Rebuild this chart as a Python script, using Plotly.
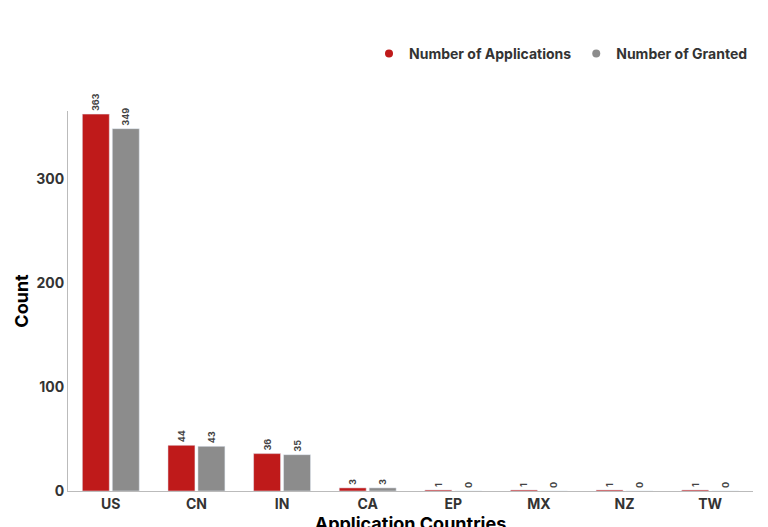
import plotly.graph_objects as go

countries = ["US", "CN", "IN", "CA", "EP", "MX", "NZ", "TW"]
applications = [363, 44, 36, 3, 1, 1, 1, 1]
granted = [349, 43, 35, 3, 0, 0, 0, 0]

font = "Inter, Open Sans, sans-serif"
red = "#BF1A1A"
grey = "#8C8C8C"

fig = go.Figure()
fig.add_trace(go.Bar(
    x=countries, y=applications, name="Number of Applications", showlegend=False,
    marker_color=red, text=applications, textposition="outside", cliponaxis=False,
    textangle=-90, textfont=dict(size=9, color="#444", family=font, weight="bold"),
))
fig.add_trace(go.Bar(
    x=countries, y=granted, name="Number of Granted", showlegend=False,
    marker_color=grey, text=granted, textposition="outside", cliponaxis=False,
    textangle=-90, textfont=dict(size=9, color="#444", family=font, weight="bold"),
))
# circle legend markers
for name, col in [("Number of Applications", red), ("Number of Granted", grey)]:
    fig.add_trace(go.Scatter(x=[countries[0]], y=[None], mode="markers", name=name,
                             marker=dict(color=col, size=8, symbol="circle")))

fig.update_layout(
    width=768, height=527,
    margin=dict(l=60, r=23, t=103, b=44),
    plot_bgcolor="white", paper_bgcolor="white",
    barmode="group", bargap=0.3, bargroupgap=0.1,
    font=dict(family=font, color="#333"),
    legend=dict(orientation="h", x=1, xanchor="right", y=1.15, yanchor="middle",
                font=dict(size=14, color="#333", weight="bold"), itemwidth=30),
    uniformtext=dict(minsize=9, mode="show"),
)
fig.update_xaxes(
    title=dict(text="Application Countries", font=dict(size=18, color="black", weight="bold"), standoff=6),
    showline=True, linecolor="#bbb", tickfont=dict(size=14, weight="bold", color="#333"),
    automargin=False,
)
fig.update_yaxes(
    title=dict(text="Count", font=dict(size=18, color="black", weight="bold"), standoff=2),
    range=[0, 366], tickvals=[0, 100, 200, 300], showgrid=False, zeroline=False,
    showline=True, linecolor="#bbb", tickfont=dict(size=14, weight="bold", color="#333"),
    automargin=False,
)

fig.write_html("out.html")
